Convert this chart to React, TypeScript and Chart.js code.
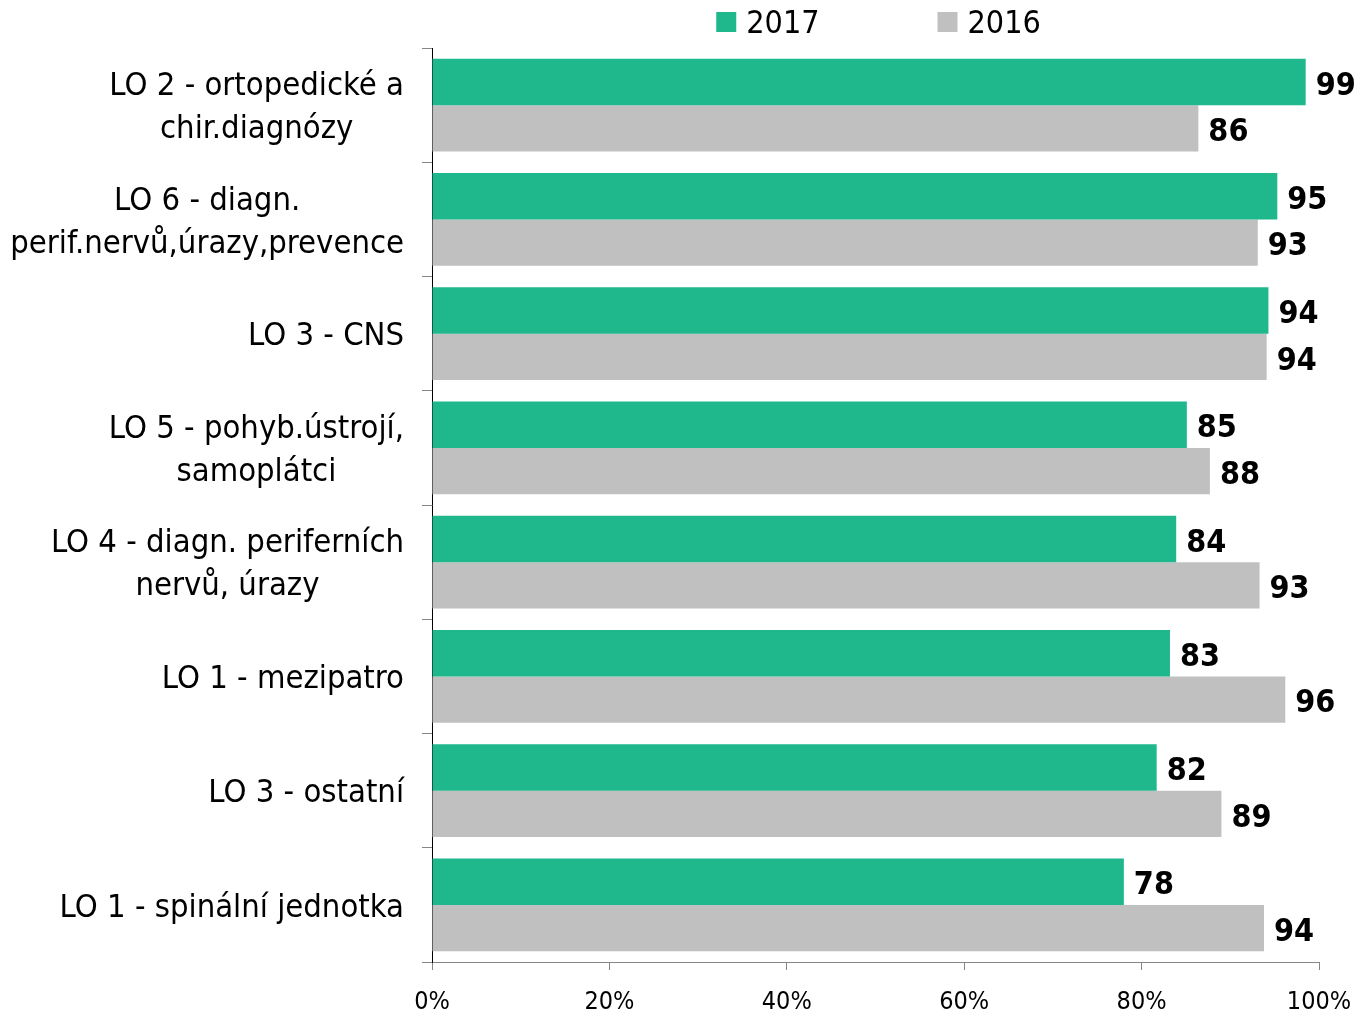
import React, { useEffect, useRef } from 'react';
import { Chart, registerables } from 'chart.js';

Chart.register(...registerables);

const categories: string[][] = [
  ['LO 2 - ortopedické a', 'chir.diagnózy'],
  ['LO 6 - diagn.', 'perif.nervů,úrazy,prevence'],
  ['LO 3 - CNS'],
  ['LO 5 - pohyb.ústrojí,', 'samoplátci'],
  ['LO 4 - diagn. periferních', 'nervů, úrazy'],
  ['LO 1 - mezipatro'],
  ['LO 3 - ostatní'],
  ['LO 1 - spinální jednotka'],
];
const seriesNames = ['2017', '2016'];
const values2017 = [98.5, 95.3, 94.3, 85.1, 83.9, 83.2, 81.7, 78.0];
const values2016 = [86.4, 93.1, 94.1, 87.7, 93.3, 96.2, 89.0, 93.8];
const xTickValues = [0, 20, 40, 60, 80, 100];

const FONT = "'DejaVu Sans Condensed', 'DejaVu Sans', sans-serif";
const GREEN = '#1FB78C';
const GRAY = '#C0C0C0';

const overlayPlugin = {
  id: 'overlay',
  afterDatasetsDraw(chart: any) {
    const ctx = chart.ctx;
    const size = 32;
    chart.data.datasets.forEach((ds: any, di: number) => {
      const meta = chart.getDatasetMeta(di);
      meta.data.forEach((bar: any, i: number) => {
        const v = ds.data[i] as number;
        ctx.save();
        ctx.font = `bold ${size}px ${FONT}`;
        ctx.fillStyle = '#000';
        ctx.textAlign = 'left';
        ctx.textBaseline = 'alphabetic';
        ctx.fillText(String(Math.round(v)), bar.x + 10, bar.y + size * 0.365 + 1);
        ctx.restore();
      });
    });
  },
  afterDraw(chart: any) {
    const ctx = chart.ctx;
    const area = chart.chartArea;
    const yScale = chart.scales.y;
    // category labels
    const catSize = 32.5;
    const lineH = 43;
    ctx.save();
    ctx.font = `${catSize}px ${FONT}`;
    ctx.fillStyle = '#000';
    ctx.textBaseline = 'alphabetic';
    ctx.textAlign = 'center';
    (chart.data.labels as string[][]).forEach((lines, i) => {
      const y = yScale.getPixelForValue(i);
      const widths = lines.map((l) => ctx.measureText(l).width);
      const blockW = Math.max(...widths);
      const cx = area.left - 28 - blockW / 2;
      lines.forEach((l, li) => {
        const capCenter = y - ((lines.length - 1) * lineH) / 2 + li * lineH;
        ctx.fillText(l, cx, capCenter + catSize * 0.365);
      });
    });
    ctx.restore();

    // legend
    const legSize = 32;
    ctx.save();
    ctx.font = `${legSize}px ${FONT}`;
    ctx.textBaseline = 'alphabetic';
    ctx.textAlign = 'left';
    const box = 20;
    const gap = 10;
    const spacing = 118;
    const items = chart.data.datasets.map((ds: any) => ({
      label: ds.label,
      color: ds.backgroundColor,
      w: box + gap + ctx.measureText(ds.label).width,
    }));
    const total = items.reduce((s: number, it: any) => s + it.w, 0) + spacing * (items.length - 1);
    let x = (area.left + area.right) / 2 + 3 - total / 2;
    items.forEach((it: any) => {
      ctx.fillStyle = it.color;
      ctx.fillRect(x, 12, box, box);
      ctx.fillStyle = '#000';
      ctx.fillText(it.label, x + box + gap, 33);
      x += it.w + spacing;
    });
    ctx.restore();
  },
};

export default function App() {
  const ref = useRef<HTMLCanvasElement | null>(null);
  useEffect(() => {
    if (!ref.current) return;
    const chart = new Chart(ref.current, {
      type: 'bar',
      data: {
        labels: categories as any,
        datasets: [
          { label: seriesNames[0], data: values2017, backgroundColor: GREEN, borderWidth: 0 },
          { label: seriesNames[1], data: values2016, backgroundColor: GRAY, borderWidth: 0 },
        ],
      },
      options: {
        indexAxis: 'y',
        responsive: false,
        animation: false,
        devicePixelRatio: 1,
        layout: { padding: { left: 0, right: 43, top: 48, bottom: 0 } },
        datasets: { bar: { categoryPercentage: 0.814, barPercentage: 1.0 } },
        plugins: { legend: { display: false }, tooltip: { enabled: false } },
        scales: {
          x: {
            type: 'linear',
            min: 0,
            max: 100,
            afterBuildTicks: (s: any) => {
              s.ticks = xTickValues.map((v) => ({ value: v }));
            },
            ticks: {
              callback: (v: any) => `${v}%`,
              font: { size: 25, family: FONT },
              color: '#000',
              padding: 17,
              maxRotation: 0,
            },
            grid: { drawOnChartArea: false, tickLength: 8, color: '#868686' },
            border: { color: '#868686' },
            afterFit: (s: any) => {
              s.height = 52;
              s.paddingLeft = 0;
              s.paddingRight = 0;
            },
          },
          y: {
            type: 'category',
            ticks: { display: false },
            grid: { drawOnChartArea: false, tickLength: 10, color: '#868686', offset: true },
            border: { color: '#000' },
            afterFit: (s: any) => {
              s.width = 432;
              s.paddingTop = 0;
              s.paddingBottom = 0;
            },
          },
        },
      },
      plugins: [overlayPlugin],
    });
    return () => chart.destroy();
  }, []);
  return (
    <div style={{ position: 'fixed', left: 0, top: 0, width: 1362, height: 1014, background: '#fff' }}>
      <canvas ref={ref} width={1362} height={1014} style={{ display: 'block' }} />
    </div>
  );
}
